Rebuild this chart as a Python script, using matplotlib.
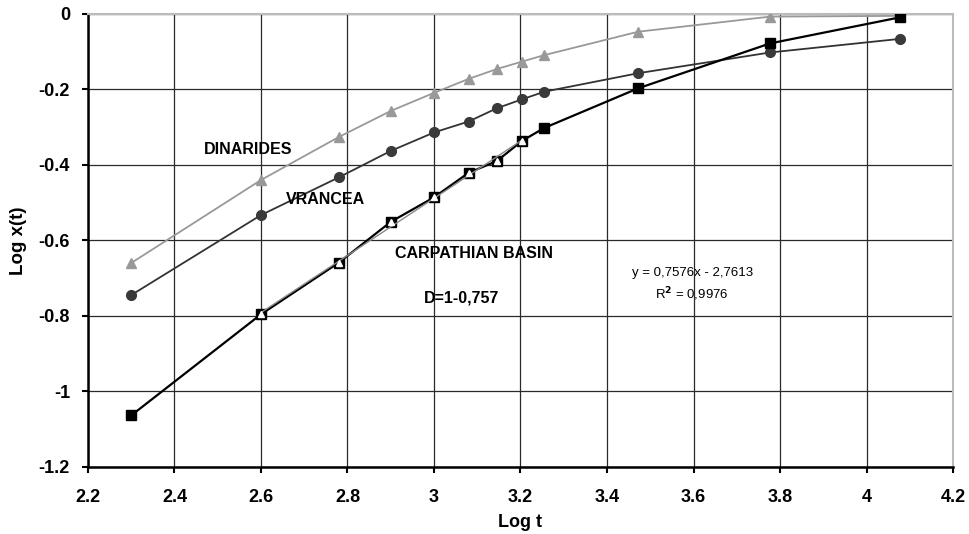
import numpy as np
import matplotlib.pyplot as plt

plt.rcParams['font.family'] = ['Liberation Sans', 'DejaVu Sans']
plt.rcParams['font.weight'] = 'bold'

log_t = [2.3, 2.6, 2.78, 2.9, 3.0, 3.08, 3.145, 3.204, 3.255, 3.472, 3.777, 4.077]
dinarides = [-0.66, -0.44, -0.326, -0.257, -0.209, -0.172, -0.146, -0.126, -0.109, -0.047, -0.007, -0.005]
vrancea = [-0.745, -0.533, -0.433, -0.363, -0.314, -0.285, -0.250, -0.226, -0.206, -0.157, -0.102, -0.066]
carpathian = [-1.064, -0.796, -0.659, -0.551, -0.486, -0.421, -0.390, -0.336, -0.302, -0.197, -0.078, -0.009]

# fitted part of the Carpathian basin curve
fit_slope, fit_icpt = 0.7576, -2.7613
fit_range = [2.6, 3.204]

fig = plt.figure(figsize=(9.69, 5.34), dpi=100)
ax = fig.add_axes([0.0908, 0.126, 0.8927, 0.8478])

ax.plot(log_t, dinarides, color='#999999', lw=1.3, marker='^', ms=7, mfc='#999999', mec='#999999', zorder=3)
ax.plot(log_t, vrancea, color='#333333', lw=1.3, marker='o', ms=7, mfc='#3a3a3a', mec='#3a3a3a', zorder=3)
ax.plot(log_t, carpathian, color='black', lw=1.6, marker='s', ms=7.5, mfc='black', mec='black', zorder=4)

fx = np.array(fit_range)
ax.plot(fx, fit_slope * fx + fit_icpt, color='#888888', lw=1.0, zorder=5)
mid = [i for i, x in enumerate(log_t) if fit_range[0] <= x <= fit_range[1]]
ax.plot([log_t[i] for i in mid], [carpathian[i] for i in mid], ls='none',
        marker='^', ms=4.5, mfc='white', mec='white', zorder=6)

ax.text(2.57, -0.358, 'DINARIDES', ha='center', va='center', fontsize=11.5, fontweight='bold')
ax.text(2.75, -0.491, 'VRANCEA', ha='center', va='center', fontsize=11.5, fontweight='bold')
ax.text(3.092, -0.634, 'CARPATHIAN BASIN', ha='center', va='center', fontsize=11.5, fontweight='bold')
ax.text(3.064, -0.753, 'D=1-0,757', ha='center', va='center', fontsize=11.5, fontweight='bold')
ax.text(3.597, -0.687, 'y = 0,7576x - 2,7613', ha='center', va='center', fontsize=9.5, fontweight='normal')
ax.text(3.597, -0.744, 'R$^2$ = 0,9976', ha='center', va='center', fontsize=9.5, fontweight='normal')

ax.set_xlim(2.2, 4.2)
ax.set_ylim(-1.2, 0)
ax.set_xticks(np.arange(2.2, 4.21, 0.2))
ax.set_yticks(np.arange(-1.2, 0.01, 0.2))
ax.set_xticklabels(['2.2', '2.4', '2.6', '2.8', '3', '3.2', '3.4', '3.6', '3.8', '4', '4.2'])
ax.set_yticklabels(['-1.2', '-1', '-0.8', '-0.6', '-0.4', '-0.2', '0'])
ax.grid(True, color='#2a2a2a', lw=0.9)
ax.set_axisbelow(True)
ax.tick_params(direction='out', length=4, width=1.5, labelsize=13, pad=9)
ax.tick_params(axis='x', pad=12)
for s in ['left', 'bottom']:
    ax.spines[s].set_linewidth(1.8)
for s in ['top', 'right']:
    ax.spines[s].set_color('#bbbbbb')
    ax.spines[s].set_linewidth(1.5)

ax.set_xlabel('Log t', fontsize=13, fontweight='bold', labelpad=6)
ax.set_ylabel('Log x(t)', fontsize=13.5, fontweight='bold', labelpad=8)

fig.savefig('out.png', dpi=100)
